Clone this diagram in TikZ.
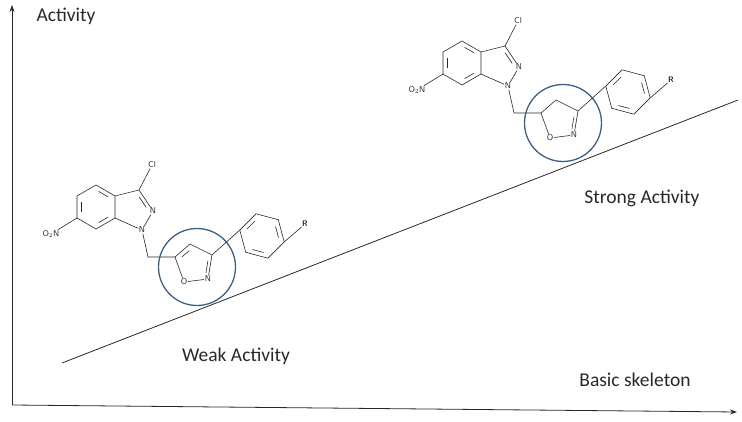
\documentclass[tikz,border=0pt]{standalone}
\usepackage{fontspec}
\setmainfont{Carlito}
\usetikzlibrary{calc,arrows.meta}
\definecolor{ringBlue}{RGB}{62,96,128}
\definecolor{inkGray}{RGB}{40,40,40}

\tikzset{
  bond/.style={draw=inkGray, line width=0.6pt},
  atom/.style={inner sep=0.5pt, font=\fontsize{8.5}{9}\selectfont\sffamily, text=inkGray},
  axis/.style={draw=inkGray, line width=0.8pt, -{Stealth[length=7pt,width=5pt]}},
  caption/.style={font=\fontsize{19.5}{22}\selectfont, text=inkGray},
  focus/.style={draw=ringBlue, line width=1.3pt}
}
% inner line of a double bond: #1--#2, pulled toward ring centre #3
\newcommand{\inbond}[3]{\draw[bond] ($(#1)!.18!(#2)!.22!(#3)$) -- ($(#2)!.18!(#1)!.22!(#3)$);}

% #1 prefix, #2 shift, #3 = 1 for isoxazole (C4=C5), 0 for isoxazoline
\newcommand{\molecule}[3]{%
\begin{scope}[shift={#2}]
  % indazole
  \coordinate (#1c3a) at (115,196); \coordinate (#1c4) at (96,185);
  \coordinate (#1c5) at (77,196);   \coordinate (#1c6) at (77,218);
  \coordinate (#1c7) at (96,229);   \coordinate (#1c7a) at (115,218);
  \coordinate (#1bz) at (96,207);
  \coordinate (#1c3) at (139,190);  \coordinate (#1pz) at (131,208);
  \node[atom] (#1n2) at (153,211) {N};
  \node[atom] (#1n1) at (142,230) {N};
  \node[atom] (#1cl) at (152,165) {Cl};
  \node[atom, anchor=east] (#1no) at (60,234) {O$_2$N};
  \draw[bond] (#1c3a) -- (#1c4) -- (#1c5) -- (#1c6) -- (#1c7) -- (#1c7a) -- cycle;
  \inbond{#1c3a}{#1c4}{#1bz}
  \inbond{#1c5}{#1c6}{#1bz}
  \inbond{#1c7}{#1c7a}{#1bz}
  \draw[bond] (#1c3a) -- (#1c3) -- (#1n2) -- (#1n1) -- (#1c7a);
  \inbond{#1c3}{#1n2}{#1pz}
  \draw[bond] (#1c3) -- (#1cl);
  \draw[bond] (#1c6) -- (#1no);
  % linker and five-membered ring
  \coordinate (#1ch2) at (148,257);
  \coordinate (#1c5r) at (175,257); \coordinate (#1c4r) at (190,244);
  \coordinate (#1c3r) at (212,255); \coordinate (#1oc) at (196,266);
  \node[atom] (#1nr) at (208,279) {N};
  \node[atom] (#1or) at (184,282) {O};
  \draw[bond] (#1n1) -- (#1ch2) -- (#1c5r);
  \draw[bond] (#1or) -- (#1c5r) -- (#1c4r) -- (#1c3r) -- (#1nr) -- (#1or);
  \inbond{#1c3r}{#1nr}{#1oc}
  \ifnum#3=1 \inbond{#1c5r}{#1c4r}{#1oc}\fi
  \draw[focus] (197,267) circle (38.5);
  % phenyl
  \coordinate (#1ph) at (262,236);
  \foreach \k [count=\i] in {195,135,75,15,315,255}
    \coordinate (#1p\i) at ($(#1ph)+(\k:23)$);
  \draw[bond] (#1p1) -- (#1p2) -- (#1p3) -- (#1p4) -- (#1p5) -- (#1p6) -- cycle;
  \inbond{#1p2}{#1p3}{#1ph}
  \inbond{#1p4}{#1p5}{#1ph}
  \inbond{#1p6}{#1p1}{#1ph}
  \draw[bond] (#1c3r) -- (#1p1);
  \node[atom, font=\fontsize{8}{9}\selectfont\sffamily\bfseries] (#1r) at (305,224) {R};
  \draw[bond] (#1p4) -- (#1r);
\end{scope}}

\begin{document}
\begin{tikzpicture}[x=1pt, y=-1pt]
  \useasboundingbox (0,0) rectangle (742,422);
  \coordinate (orig) at (12,405);
  \coordinate (ytop) at (12,5);
  \coordinate (xend) at (737,412);
  \draw[axis] (orig) -- (ytop);
  \draw[axis] (orig) -- (xend);
  \coordinate (trendA) at (62,363);
  \coordinate (trendB) at (738,100);
  \draw[draw=inkGray, line width=0.8pt] (trendA) -- (trendB);

  \node[caption, anchor=west] (act) at (33,16) {Activity};
  \node[caption] (strong) at (642,198) {Strong Activity};
  \node[caption] (weak) at (236,356) {Weak Activity};
  \node[caption] (basic) at (635,380) {Basic skeleton};

  \molecule{w}{(0,0)}{1}
  \molecule{s}{(366,-144)}{0}
\end{tikzpicture}
\end{document}
